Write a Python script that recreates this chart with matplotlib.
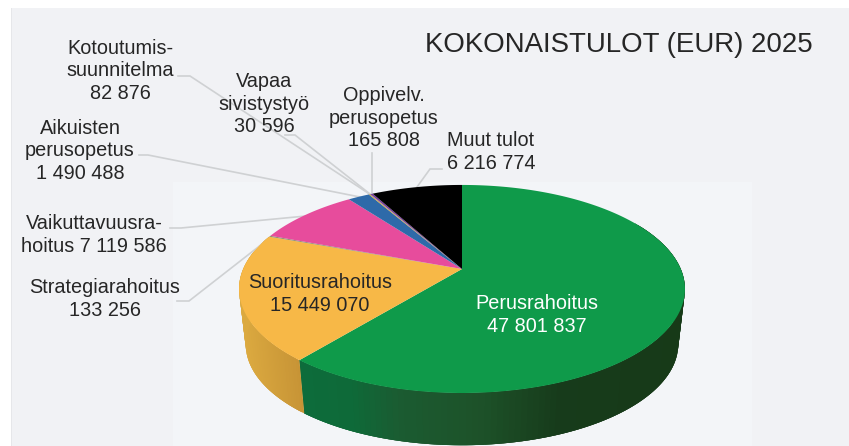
# kokonaistulot 2025, perspective 3d pie drawn by hand in pixel coordinates
import numpy as np
import matplotlib
matplotlib.use('Agg')
import matplotlib.pyplot as plt
from matplotlib.patches import Polygon, Rectangle

plt.rcParams['font.family'] = ['Liberation Sans', 'DejaVu Sans']

categories = ['Perusrahoitus', 'Suoritusrahoitus', 'Strategiarahoitus', 'Vaikuttavuusrahoitus',
              'Aikuisten perusopetus', 'Kotoutumissuunnitelma', 'Vapaa sivistystyö',
              'Oppivelv. perusopetus', 'Muut tulot']
values = [47801837, 15449070, 133256, 7119586, 1490488, 82876, 30596, 165808, 6216774]
colors = ['#0f9a4a', '#f7b847', '#8f8f72', '#e74c9c', '#2e6aa9', '#d9a52f', '#8a8a8a', '#7a3d9e', '#000000']

title = 'KOKONAISTULOT (EUR) 2025'
label_texts = ['Perusrahoitus\n47 801 837', 'Suoritusrahoitus\n15 449 070', 'Strategiarahoitus\n133 256',
               'Vaikuttavuusra-\nhoitus 7 119 586', 'Aikuisten\nperusopetus\n1 490 488',
               'Kotoutumis-\nsuunnitelma\n82 876', 'Vapaa\nsivistystyö\n30 596',
               'Oppivelv.\nperusopetus\n165 808', 'Muut tulot\n6 216 774']
label_pos = [(537, 315), (320, 294), (105, 299), (94, 235), (80, 151),
             (120, 71), (264, 104), (384, 118), (491, 152)]
label_color = ['white'] + ['#262626'] * 8

# leader lines in pixels, label end first
leaders = [[(178, 76), (190, 76), (371, 195)],
           [(285, 135), (295, 135), (370, 194)],
           [(372, 153), (372, 195)],
           [(139, 155), (148, 155), (360, 197)],
           [(170, 228), (181, 228), (306, 216)],
           [(177, 301), (189, 301), (271, 237)],
           [(442, 169), (430, 169), (417, 187)]]

# pie geometry, apex and the shape of the perspective ellipse
cx, cy = 462, 269
A, B, k = 218.8, 100.2, 0.192
depth, shrink = 56, 0.97


def top_edge(theta):
    u, v = np.sin(theta), np.cos(theta)
    return cx + A * u / (1 + k * v), cy - B * v / (1 + k * v)


def bottom_edge(theta):
    x, y = top_edge(theta)
    return cx + shrink * (x - cx), cy + depth + shrink * (y - cy)


def green_wall(x):
    stops = [(301, '#0d6c3b'), (350, '#0e6a39'), (400, '#1b5b31'), (480, '#1d5229'), (560, '#173b1b'), (685, '#173a18')]
    xs = [s[0] for s in stops]
    rgb = np.array([matplotlib.colors.to_rgb(s[1]) for s in stops])
    return [np.interp(x, xs, rgb[:, i]) for i in range(3)]


def orange_wall(x):
    rgb = np.array([matplotlib.colors.to_rgb('#dcaa40'), matplotlib.colors.to_rgb('#c59235')])
    return [np.interp(x, [240, 305], rgb[:, i]) for i in range(3)]


fig = plt.figure(figsize=(8.49, 4.46), dpi=100, facecolor='white')
ax = fig.add_axes([0, 0, 1, 1])
ax.set_xlim(0, 849)
ax.set_ylim(446, 0)
ax.axis('off')

# background panels
ax.add_patch(Rectangle((11, 8), 838, 438, facecolor='#f1f2f5', edgecolor='none', zorder=0))
ax.add_patch(Rectangle((11, 8), 1.2, 438, facecolor='#e6e7ea', edgecolor='none', zorder=0.1))
ax.add_patch(Rectangle((173, 182), 579, 264, facecolor='#f3f5f8', edgecolor='none', zorder=0.2))

fractions = np.array(values) / sum(values)
edges = np.concatenate([[0], np.cumsum(fractions)]) * 2 * np.pi

# side wall, only the first two slices show at the front
# each strip runs on past the next one so no seams show between them
for i, wall in [(0, green_wall), (1, orange_wall)]:
    t0, t1 = max(edges[i], np.radians(60)), edges[i + 1]
    ts = np.linspace(t0, t1, 120)
    step = ts[1] - ts[0]
    for a in ts[:-1]:
        b = min(a + 3 * step, t1)
        pts = [top_edge(a), top_edge(b), bottom_edge(b), bottom_edge(a)]
        mid = top_edge(a + step / 2)
        c = wall(mid[0])
        ax.add_patch(Polygon(pts, closed=True, facecolor=c, edgecolor='none', zorder=1))

# top face
for i, color in enumerate(colors):
    ts = np.linspace(edges[i], edges[i + 1], 200)
    xs, ys = top_edge(ts)
    pts = [(cx, cy)] + list(zip(xs, ys))
    ax.add_patch(Polygon(pts, closed=True, facecolor=color, edgecolor='none', zorder=2))

for line in leaders:
    ax.plot([p[0] for p in line], [p[1] for p in line], color='#cfd1d3', lw=1.2, zorder=1.5,
            solid_joinstyle='miter')

for text, pos, c in zip(label_texts, label_pos, label_color):
    ax.text(pos[0], pos[1], text, ha='center', va='center', fontsize=14.3, color=c,
            linespacing=1.25, zorder=3)

ax.text(619, 45, title, ha='center', va='center', fontsize=19.9, color='#262626', zorder=3)

fig.savefig('out.png', dpi=100, facecolor='white')
